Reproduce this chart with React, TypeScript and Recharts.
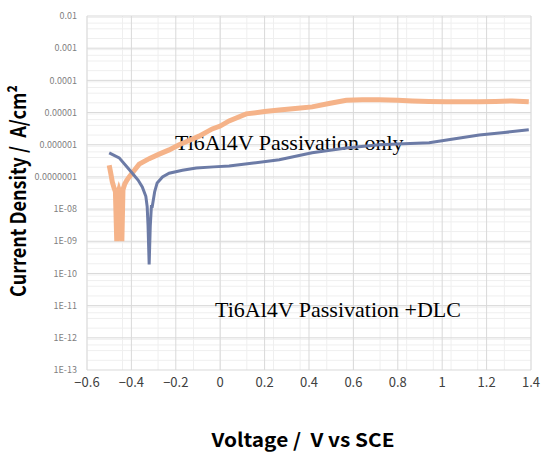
import { LineChart, Line, XAxis, YAxis, CartesianGrid, Label } from 'recharts'

// Polarization curves (voltage V vs SCE, current density A/cm²)
const onlyVoltage = [
  -0.5, -0.493, -0.486, -0.478, -0.472, -0.466, -0.461, -0.456, -0.45, -0.443, -0.438, -0.43,
  -0.42, -0.41, -0.39, -0.365, -0.32, -0.275, -0.23, -0.185, -0.14, -0.095, -0.06, -0.036, 0,
  0.04, 0.117, 0.2, 0.266, 0.35, 0.414, 0.49, 0.568, 0.64, 0.716, 0.8, 0.865, 0.94, 1.018, 1.1,
  1.167, 1.24, 1.315, 1.39,
]
const onlyCurrent = [
  2.3e-7, 1.3e-7, 7e-8, 4.5e-8, 3.5e-8, 1e-9, 3e-8, 4e-8, 3e-8, 1e-9, 4e-8, 6e-8, 8e-8, 1e-7,
  1.5e-7, 2.5e-7, 3.7e-7, 5.1e-7, 6.9e-7, 1e-6, 1.35e-6, 1.85e-6, 2.5e-6, 3.1e-6, 3.8e-6, 5.5e-6,
  9.1e-6, 1.07e-5, 1.2e-5, 1.35e-5, 1.5e-5, 1.9e-5, 2.4e-5, 2.5e-5, 2.5e-5, 2.4e-5, 2.3e-5,
  2.2e-5, 2.15e-5, 2.15e-5, 2.15e-5, 2.2e-5, 2.3e-5, 2.15e-5,
]

const dlcVoltage = [
  -0.5, -0.455, -0.41, -0.37, -0.351, -0.335, -0.329, -0.325, -0.32, -0.315, -0.31, -0.306,
  -0.295, -0.284, -0.26, -0.23, -0.17, -0.108, -0.03, 0.04, 0.15, 0.266, 0.414, 0.568, 0.716,
  0.941, 1.05, 1.167, 1.28, 1.39,
]
const dlcCurrent = [
  5.6e-7, 3.9e-7, 1.7e-7, 8e-8, 4.9e-8, 2.5e-8, 1.2e-8, 3e-9, 1.9e-10, 3e-9, 1.2e-8, 1.2e-8,
  3.5e-8, 6.5e-8, 1e-7, 1.3e-7, 1.6e-7, 1.9e-7, 2.05e-7, 2.2e-7, 2.7e-7, 3.4e-7, 5.6e-7,
  7.9e-7, 1e-6, 1.15e-6, 1.5e-6, 2e-6, 2.4e-6, 2.9e-6,
]

const xTicks = [-0.6, -0.4, -0.2, 0, 0.2, 0.4, 0.6, 0.8, 1, 1.2, 1.4]
const yTicks = [1e-13, 1e-12, 1e-11, 1e-10, 1e-9, 1e-8, 1e-7, 1e-6, 1e-5, 1e-4, 1e-3, 1e-2]
const yTickLabels = [
  '1E-13', '1E-12', '1E-11', '1E-10', '1E-09', '1E-08',
  '0.0000001', '0.000001', '0.00001', '0.0001', '0.001', '0.01',
]

const onlyData = onlyVoltage.map((v, i) => ({ v, i: onlyCurrent[i] }))
const dlcData = dlcVoltage.map((v, i) => ({ v, i: dlcCurrent[i] }))

// minor gridlines: 2..9 within each decade, 5 steps between voltage ticks
const minorY: number[] = []
for (let k = -13; k < -2; k++) {
  for (let m = 2; m <= 9; m++) minorY.push(m * Math.pow(10, k))
}
const minorX: number[] = []
for (let j = 0; j <= 50; j++) minorX.push(-0.6 + j * 0.04)

const titleFont = "'Noto Sans CJK JP', sans-serif"

const fmtX = (v: number) => String(Math.round(v * 10) / 10).replace('-', '\u2212')
const fmtY = (v: number) => {
  const idx = yTicks.findIndex((t) => Math.abs(Math.log10(t) - Math.log10(v)) < 0.01)
  return idx >= 0 ? yTickLabels[idx] : ''
}

// axis titles in the reference use a condensed bold gothic, squeezed with textLength
const YTitle = (props: any) => {
  const { viewBox } = props
  const cx = 17
  const cy = viewBox.y + viewBox.height / 2 - 2
  return (
    <text
      x={cx}
      y={cy}
      transform={`rotate(-90 ${cx} ${cy})`}
      textAnchor="middle"
      dominantBaseline="central"
      fontFamily={titleFont}
      fontWeight={700}
      fontSize={21}
      textLength={212}
      lengthAdjust="spacingAndGlyphs"
      style={{ whiteSpace: 'pre' }}
      fill="#000"
    >
      Current Density /  A/cm²
    </text>
  )
}

const XTitle = () => (
  <text
    x={303}
    y={447}
    textAnchor="middle"
    fontFamily={titleFont}
    fontWeight={700}
    fontSize={19}
    textLength={183}
    lengthAdjust="spacingAndGlyphs"
    style={{ whiteSpace: 'pre' }}
    fill="#000"
  >
    Voltage /  V vs SCE
  </text>
)

export default function App() {
  return (
    <div style={{ position: 'absolute', left: 0, top: 0, width: 542, height: 452, background: '#fff' }}>
      <LineChart
        width={542}
        height={452}
        margin={{ top: 16, right: 11, left: 7, bottom: 0 }}
      >
        <CartesianGrid
          stroke="#efefef"
          strokeWidth={1}
          horizontalValues={minorY}
          verticalValues={minorX}
        />
        <CartesianGrid stroke="#d9d9d9" strokeWidth={1} />
        <XAxis
          dataKey="v"
          type="number"
          domain={[-0.6, 1.4]}
          ticks={xTicks}
          tickFormatter={fmtX}
          axisLine={false}
          tickLine={false}
          tickSize={0}
          tickMargin={8}
          height={82}
          allowDataOverflow
          tick={{ fontSize: 13, fill: '#404040', fontFamily: "'Noto Sans CJK JP', sans-serif" }}
        >
          <Label content={XTitle} />
        </XAxis>
        <YAxis
          dataKey="i"
          type="number"
          scale="log"
          domain={[1e-13, 1e-2]}
          ticks={yTicks}
          tickFormatter={fmtY}
          allowDataOverflow
          axisLine={false}
          tickLine={false}
          tickSize={0}
          tickMargin={10}
          width={80}
          tick={{ fontSize: 9, fill: '#7f7f7f', fontFamily: "'Noto Sans CJK JP', sans-serif" }}
        >
          <Label content={YTitle} />
        </YAxis>
        <Line
          data={onlyData}
          dataKey="i"
          stroke="#F5B389"
          strokeWidth={5}
          dot={false}
          isAnimationActive={false}
        />
        <Line
          data={dlcData}
          dataKey="i"
          stroke="#6C7BA6"
          strokeWidth={3}
          dot={false}
          isAnimationActive={false}
        />
        <text x={175} y={150} fontFamily="'Liberation Serif', serif" fontSize={22} fill="#000">
          Ti6Al4V Passivation only
        </text>
        <text x={215} y={317} fontFamily="'Liberation Serif', serif" fontSize={22} fill="#000">
          Ti6Al4V Passivation +DLC
        </text>
      </LineChart>
    </div>
  )
}
